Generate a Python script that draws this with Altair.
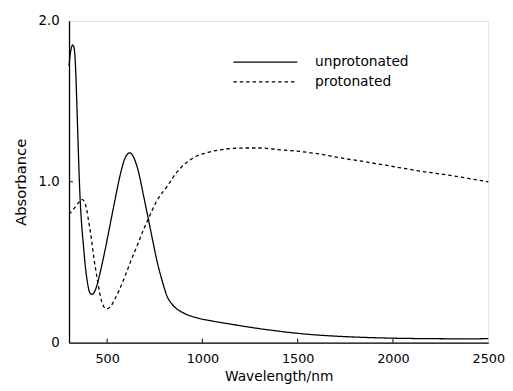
import altair as alt
import pandas as pd

# --- data ---
unprot_wl = [300, 305, 312, 320, 327, 334, 340, 346, 352, 358, 366, 376, 386, 396, 406, 418, 430, 442, 454,
             470, 490, 510, 540, 572, 595, 619, 640, 665, 690, 716, 740, 763, 790, 814, 840, 866, 900, 969,
             1050, 1150, 1250, 1350, 1485, 1600, 1742, 1900, 2000, 2200, 2400, 2500]
unprot_abs = [1.72, 1.78, 1.83, 1.85, 1.83, 1.72, 1.52, 1.30, 1.08, 0.90, 0.74, 0.60, 0.47, 0.38, 0.32, 0.30,
              0.31, 0.34, 0.39, 0.47, 0.58, 0.70, 0.88, 1.06, 1.15, 1.18, 1.15, 1.06, 0.92, 0.77, 0.63, 0.50,
              0.38, 0.29, 0.24, 0.21, 0.185, 0.155, 0.135, 0.115, 0.096, 0.079, 0.06, 0.048, 0.038, 0.031,
              0.028, 0.025, 0.024, 0.025]

prot_wl = [300, 310, 330, 350, 366, 380, 392, 405, 418, 430, 442, 454, 466, 480, 495, 515, 540, 565, 593,
           625, 660, 690, 716, 760, 814, 866, 917, 970, 1020, 1100, 1227, 1300, 1397, 1500, 1600, 1742, 1850,
           2000, 2150, 2300, 2400, 2500]
prot_abs = [0.80, 0.81, 0.84, 0.87, 0.89, 0.88, 0.83, 0.74, 0.64, 0.53, 0.44, 0.355, 0.28, 0.23, 0.21, 0.22,
            0.27, 0.33, 0.41, 0.51, 0.61, 0.70, 0.77, 0.88, 0.97, 1.06, 1.12, 1.16, 1.18, 1.20, 1.21, 1.21,
            1.20, 1.19, 1.175, 1.145, 1.125, 1.095, 1.065, 1.04, 1.02, 1.00]

series_names = ["unprotonated", "protonated"]
x_ticks = [500, 1000, 1500, 2000, 2500]
y_ticks = [0, 1, 2]

FONT = "DejaVu Sans"
W, H = 426, 327

df = pd.concat([
    pd.DataFrame({"wl": unprot_wl, "abs": unprot_abs, "series": series_names[0]}),
    pd.DataFrame({"wl": prot_wl, "abs": prot_abs, "series": series_names[1]}),
])

xscale = alt.Scale(domain=[300, 2500], nice=False, zero=False)
yscale = alt.Scale(domain=[0, 2], nice=False)

lines = alt.Chart(df).mark_line(interpolate="monotone", color="black", strokeWidth=1.3).encode(
    x=alt.X("wl:Q", scale=xscale, title="Wavelength/nm",
            axis=alt.Axis(values=x_ticks, format="d", labelFont=FONT, labelFontSize=13, titleFont=FONT,
                          titleFontSize=14, titleFontWeight="normal", labelColor="black",
                          titleColor="black", domainColor="black", domainWidth=1.3, ticks=False,
                          labelPadding=10, titlePadding=4, grid=False, labelFlush=False)),
    y=alt.Y("abs:Q", scale=yscale, title="Absorbance",
            axis=alt.Axis(values=y_ticks, labelExpr="datum.value == 0 ? '0' : format(datum.value, '.1f')",
                          labelFont=FONT, labelFontSize=13.5, titleFont=FONT, titleFontSize=15,
                          titleFontWeight="normal", labelColor="black", titleColor="black",
                          domainColor="black", domainWidth=1.3, ticks=False, labelPadding=10,
                          titlePadding=10, grid=False)),
    strokeDash=alt.StrokeDash("series:N", scale=alt.Scale(domain=series_names, range=[[1, 0], [3.5, 3]]),
                              legend=None),
    detail="series:N",
)

# inward ticks
xt = pd.DataFrame({"v": x_ticks[:-1]})
xtick_layer = alt.Chart(xt).mark_rule(color="black", strokeWidth=1).encode(
    x=alt.X("v:Q", scale=xscale), y=alt.value(H), y2=alt.value(H - 4))
yt = pd.DataFrame({"v": [1]})
ytick_layer = alt.Chart(yt).mark_rule(color="black", strokeWidth=1).encode(
    y=alt.Y("v:Q", scale=yscale), x=alt.value(0), x2=alt.value(4))

# manual legend
legend_layers = []
for i, name in enumerate(series_names):
    ld = pd.DataFrame({"series": [name]})
    ypix = 42 + 20 * i
    legend_layers.append(alt.Chart(ld).mark_rule(color="black", strokeWidth=1.3,
                                                 strokeDash=[1, 0] if i == 0 else [3.5, 3]).encode(
        x=alt.value(167), x2=alt.value(232), y=alt.value(ypix)))
    legend_layers.append(alt.Chart(ld).mark_text(align="left", baseline="middle", font=FONT, fontSize=14,
                                                 color="black").encode(
        x=alt.value(250), y=alt.value(ypix), text="series:N"))

chart = alt.layer(lines, xtick_layer, ytick_layer, *legend_layers).properties(
    width=W, height=H,
    autosize=alt.AutoSizeParams(type="none"),
    padding={"left": 62, "top": 10, "right": 17, "bottom": 46},
).configure_view(stroke="black", strokeWidth=1.3).configure(background="white")

chart.save("out.html", embed_options={"renderer": "svg", "actions": False})
